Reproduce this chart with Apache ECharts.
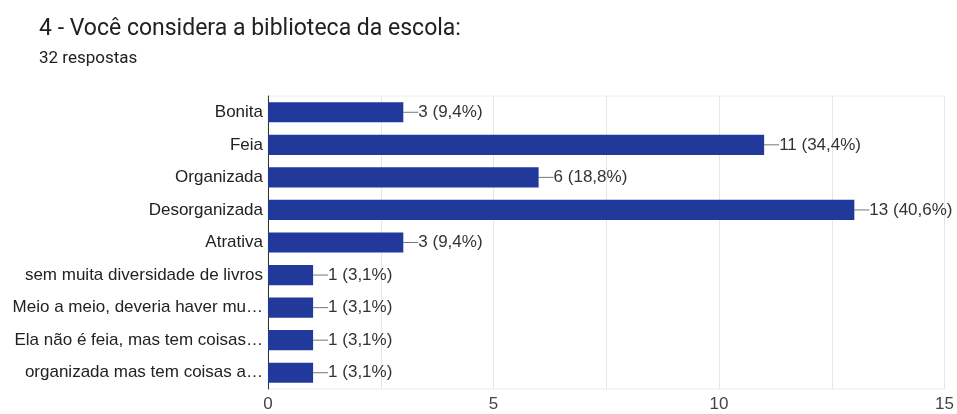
<!DOCTYPE html>
<html><head><meta charset="utf-8">
<script src="https://cdn.jsdelivr.net/npm/echarts@6/dist/echarts.min.js"></script>
<style>html,body{margin:0;padding:0;background:#fff}#c{width:957px;height:414px}</style>
</head><body><div id="c"></div>
<script>
const categories = ['Bonita','Feia','Organizada','Desorganizada','Atrativa','sem muita diversidade de livros','Meio a meio, deveria haver mu…','Ela não é feia, mas tem coisas…','organizada mas tem coisas a…'];
const counts = [3, 11, 6, 13, 3, 1, 1, 1, 1];
const percents = ['9,4%','34,4%','18,8%','40,6%','9,4%','3,1%','3,1%','3,1%','3,1%'];
const xTicks = [0, 5, 10, 15];

const F = '"Liberation Sans", Arial, sans-serif';
const chart = echarts.init(document.getElementById('c'));
chart.setOption({
  animation: false,
  title: [
    {text: '4 - Você considera a biblioteca da escola:', left: 34, top: 13,
     textStyle: {fontFamily: 'Roboto', fontSize: 23, fontWeight: 'normal', color: '#202124'}},
    {text: '32 respostas', left: 34, top: 45,
     textStyle: {fontFamily: 'Roboto', fontSize: 17, fontWeight: 'normal', color: '#202124'}}
  ],
  grid: {left: 268, right: 10, top: 96, bottom: 25, show: true, borderColor: '#ececec', borderWidth: 1},
  xAxis: {
    type: 'value', min: 0, max: 15, interval: 2.5,
    axisLine: {show: false}, axisTick: {show: false},
    splitLine: {lineStyle: {color: '#e6e6e6'}},
    axisLabel: {fontFamily: F, fontSize: 17, color: '#444', margin: 7,
      formatter: v => xTicks.includes(v) ? String(v) : ''}
  },
  yAxis: {
    type: 'category', data: categories, inverse: true,
    axisLine: {show: true, lineStyle: {color: '#333', width: 1}},
    axisTick: {show: false},
    axisLabel: {fontFamily: F, fontSize: 17, color: '#222', margin: 5}
  },
  series: [{
    type: 'bar', data: counts, barCategoryGap: '38%',
    itemStyle: {color: '#21399a'},
    label: {show: true, position: 'right', distance: 0,
      fontFamily: F, fontSize: 17, color: '#333',
      formatter: p => p.value + ' (' + percents[p.dataIndex] + ')'},
    labelLayout: {dx: 15},
    labelLine: {show: true, length2: 0, lineStyle: {color: '#777', width: 1}}
  }]
});
</script></body></html>
